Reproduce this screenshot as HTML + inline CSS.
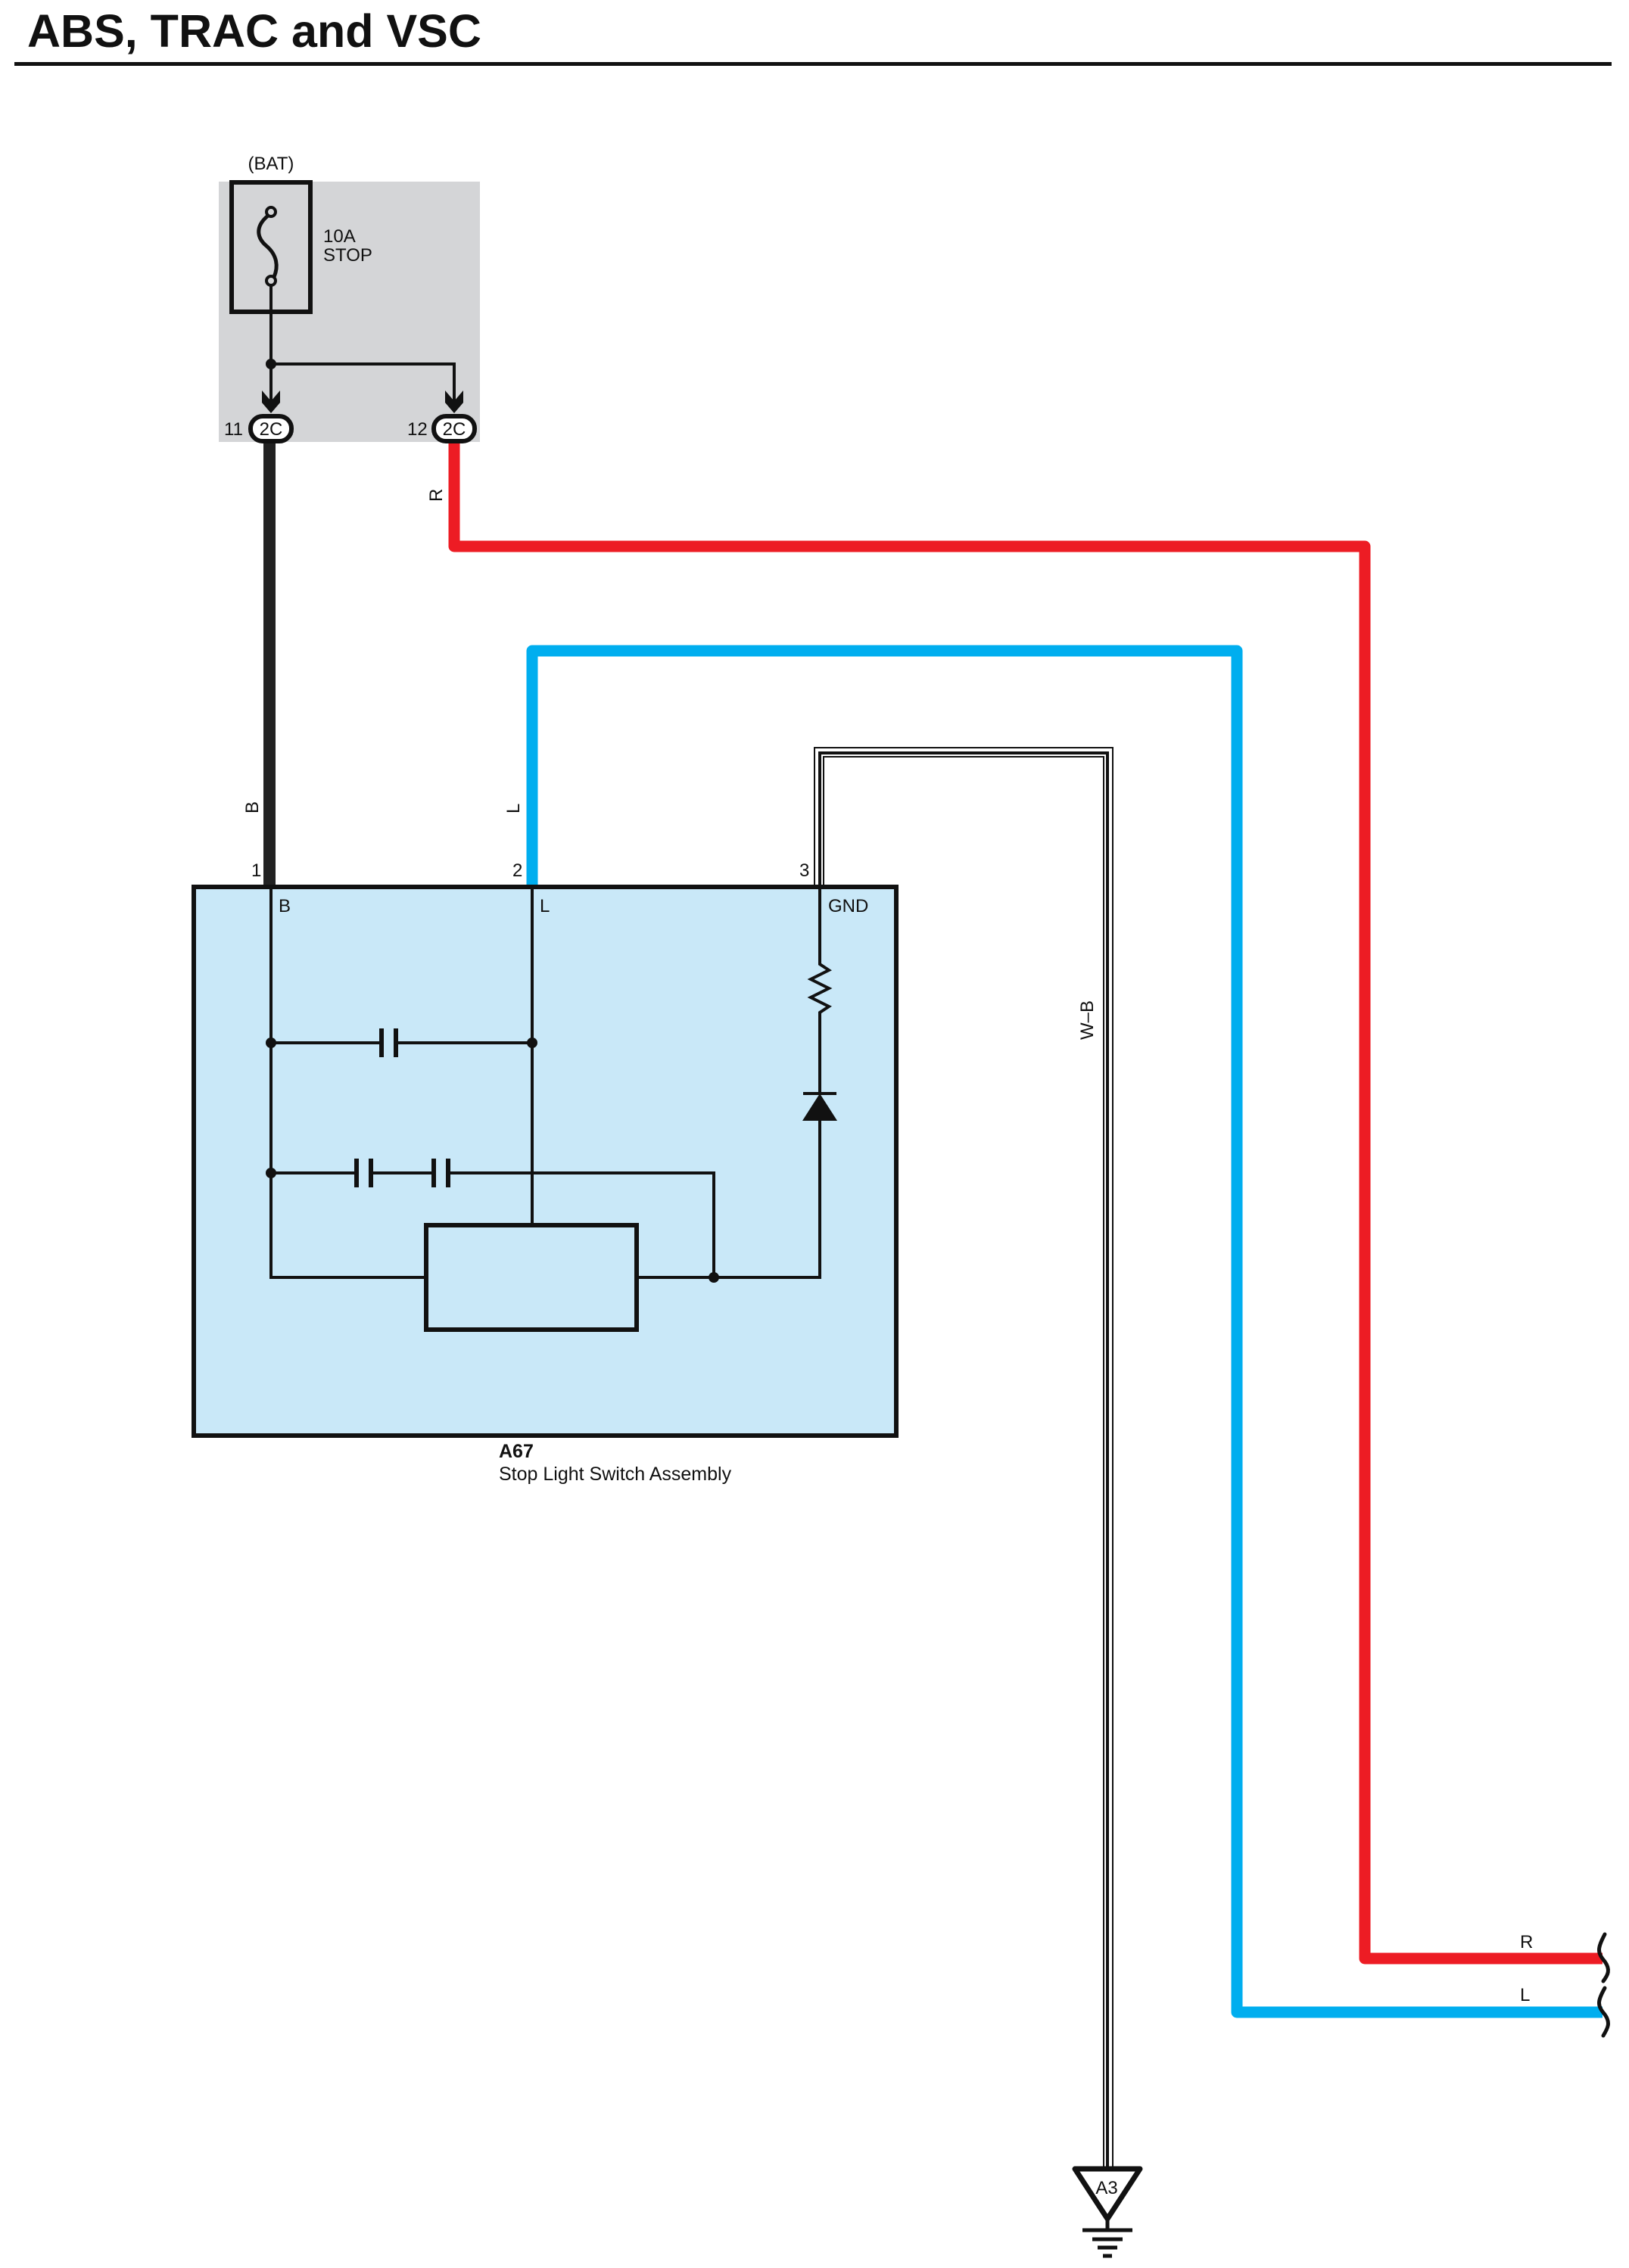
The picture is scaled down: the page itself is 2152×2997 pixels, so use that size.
<!DOCTYPE html>
<html><head><meta charset="utf-8"><style>
html,body{margin:0;padding:0;background:#fff}
svg{display:block}
text{font-family:"Liberation Sans",sans-serif;fill:#111}
</style></head><body>
<svg width="2152" height="2997" viewBox="0 0 2152 2997" xmlns="http://www.w3.org/2000/svg">
<text x="36" y="62" font-size="61" font-weight="bold">ABS, TRAC and VSC</text>
<rect x="19" y="82" width="2110" height="5" fill="#111"/>

<rect x="289" y="240" width="345" height="344" fill="#d4d5d7"/>
<text x="358" y="224" font-size="24" text-anchor="middle">(BAT)</text>
<rect x="306" y="241" width="104" height="171" fill="none" stroke="#111" stroke-width="6"/>
<circle cx="358" cy="280" r="6" fill="none" stroke="#111" stroke-width="4"/>
<circle cx="358" cy="371" r="6" fill="none" stroke="#111" stroke-width="4"/>
<path d="M354 285 C336 300,340 315,352 325 C366 337,368 352,362 366" fill="none" stroke="#111" stroke-width="5"/>
<text x="427" y="320" font-size="24">10A</text>
<text x="427" y="345" font-size="24">STOP</text>
<path d="M358 377 V540 M358 481 H600 V540" fill="none" stroke="#111" stroke-width="4"/>
<circle cx="358" cy="481" r="7" fill="#111"/>
<path d="M346 516 L358 530 L370 516 L370 532 L358 546 L346 532Z" fill="#111"/>
<path d="M588 516 L600 530 L612 516 L612 532 L600 546 L588 532Z" fill="#111"/>
<rect x="331" y="550" width="54" height="33" rx="16" fill="#fff" stroke="#111" stroke-width="6"/>
<rect x="573" y="550" width="54" height="33" rx="16" fill="#fff" stroke="#111" stroke-width="6"/>
<text x="358" y="575" font-size="24" text-anchor="middle">2C</text>
<text x="600" y="575" font-size="24" text-anchor="middle">2C</text>
<text x="296" y="575" font-size="24">11</text>
<text x="538" y="575" font-size="24">12</text>

<path d="M356 586 V1171" stroke="#222" stroke-width="16" fill="none"/>
<path d="M600 586 V722 H1803 V2588 H2117" stroke="#ed1c24" stroke-width="15" fill="none" stroke-linejoin="round"/>
<path d="M703 1171 V860 H1634 V2659 H2117" stroke="#00aeef" stroke-width="15" fill="none" stroke-linejoin="round"/>
<path d="M1082 1171 V994 H1464 V2864" stroke="#111" stroke-width="14" fill="none"/>
<path d="M1082 1171 V994 H1464 V2864" stroke="#fff" stroke-width="10" fill="none"/>
<path d="M1083 1171 V995 H1463 V2864" stroke="#111" stroke-width="4" fill="none"/>

<text transform="translate(341,1075) rotate(-90)" font-size="24">B</text>
<text transform="translate(584,663) rotate(-90)" font-size="24">R</text>
<text transform="translate(686,1075) rotate(-90)" font-size="24">L</text>
<text transform="translate(1444,1374) rotate(-90)" font-size="24">W–B</text>
<text x="2008" y="2574" font-size="24">R</text>
<text x="2008" y="2644" font-size="24">L</text>
<path d="M2120 2556 C2110 2575,2110 2580,2120 2592 C2128 2603,2124 2610,2118 2618" fill="none" stroke="#111" stroke-width="5" stroke-linecap="round"/>
<path d="M2120 2627 C2110 2645,2110 2650,2120 2662 C2128 2673,2124 2680,2118 2690" fill="none" stroke="#111" stroke-width="5" stroke-linecap="round"/>

<path d="M1420 2866 H1506 L1463 2932 Z" fill="#fff" stroke="#111" stroke-width="7" stroke-linejoin="round"/>
<text x="1462" y="2899" font-size="24" text-anchor="middle">A3</text>
<path d="M1463 2932 V2947 M1430 2947 H1496 M1443 2959 H1483 M1450 2970 H1476 M1457 2981 H1469" stroke="#111" stroke-width="5" fill="none"/>

<rect x="256" y="1172" width="928" height="725" fill="#c9e8f8" stroke="#111" stroke-width="6"/>
<text x="332" y="1158" font-size="24">1</text>
<text x="677" y="1158" font-size="24">2</text>
<text x="1056" y="1158" font-size="24">3</text>
<text x="368" y="1205" font-size="24">B</text>
<text x="713" y="1205" font-size="24">L</text>
<text x="1094" y="1205" font-size="24">GND</text>
<g stroke="#111" stroke-width="4" fill="none">
<path d="M358 1171 V1688 H563"/>
<path d="M703 1171 V1619"/>
<path d="M358 1378 H504 M523 1378 H703"/>
<path d="M504 1359 V1397 M523 1359 V1397" stroke-width="6"/>
<path d="M358 1550 H471 M490 1550 H573 M592 1550 H943 V1688"/>
<path d="M471 1531 V1569 M490 1531 V1569 M573 1531 V1569 M592 1531 V1569" stroke-width="6"/>
<rect x="563" y="1619" width="278" height="138" stroke-width="6"/>
<path d="M841 1688 H1083 V1481"/>
<path d="M1083 1171 V1274 L1095 1282 L1071 1294 L1095 1306 L1071 1318 L1095 1330 L1083 1338 V1445"/>
<path d="M1061 1445 H1105"/>
</g>
<path d="M1083 1445 L1106 1481 L1060 1481Z" fill="#111"/>
<circle cx="358" cy="1378" r="7" fill="#111"/>
<circle cx="703" cy="1378" r="7" fill="#111"/>
<circle cx="358" cy="1550" r="7" fill="#111"/>
<circle cx="943" cy="1688" r="7" fill="#111"/>
<text x="659" y="1926" font-size="25" font-weight="bold">A67</text>
<text x="659" y="1956" font-size="25">Stop Light Switch Assembly</text>
</svg>
</body></html>
